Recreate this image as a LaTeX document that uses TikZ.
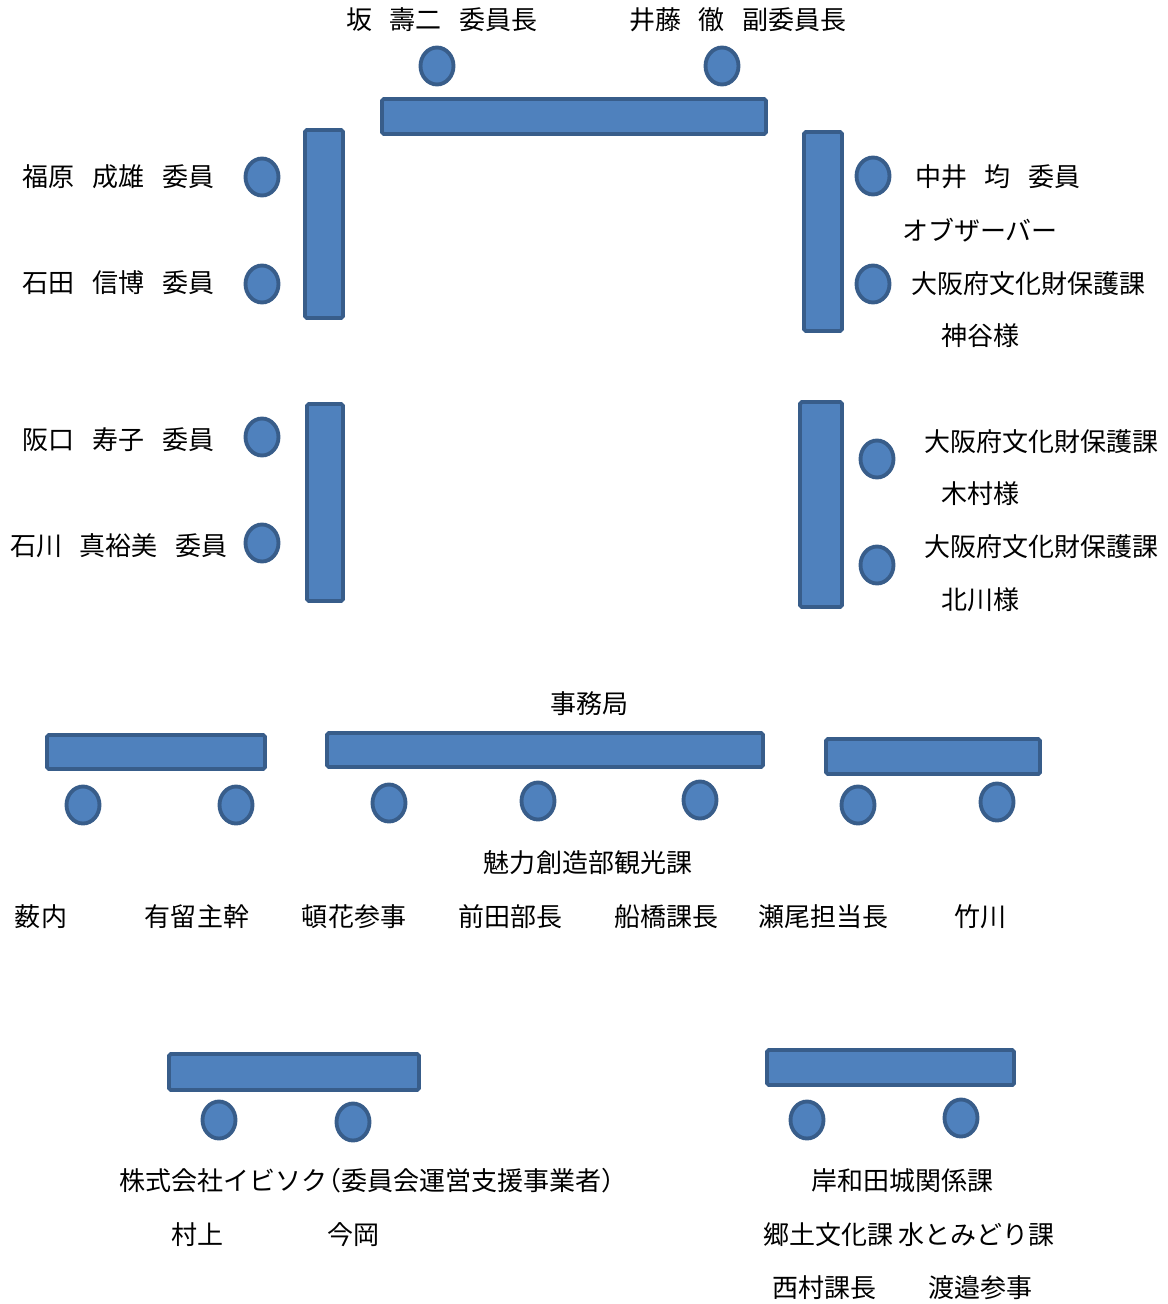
\documentclass[tikz,border=0pt]{standalone}
\usepackage{fontspec}
\setmainfont{Noto Sans CJK JP}
\usetikzlibrary{shapes}
\definecolor{deskblue}{HTML}{4F81BD}
\definecolor{deskline}{HTML}{385D8A}
\newcommand{\jsp}{\hspace{0.68em}}

\begin{document}
\begin{tikzpicture}[x=0.02cm, y=-0.02cm,
  desk/.style 2 args={rectangle, draw=deskline, fill=deskblue, line width=2.2pt, rounded corners=1pt, inner sep=0pt, minimum width=#1*0.02cm, minimum height=#2*0.02cm},
  seat/.style={ellipse, draw=deskline, fill=deskblue, line width=2.2pt, inner sep=0pt, minimum width=0.66cm, minimum height=0.74cm},
  txt/.style={font=\fontsize{14.8pt}{18pt}\selectfont, inner sep=0pt}]
  \useasboundingbox (0,0) rectangle (1168,1304);

  %% committee, top table
  \node[desk={384}{35}] (top) at (574,116.5) {};
  \node[seat] (chair) at (437,66) {};
  \node[seat] (vice) at (722,66) {};
  \node[txt] (chairlabel) at (442,20) {坂\jsp 壽二\jsp 委員長};
  \node[txt] (vicelabel) at (738,20) {井藤\jsp 徹\jsp 副委員長};

  %% left tables
  \node[desk={38}{188}] (left1) at (324,224) {};
  \node[desk={36}{197}] (left2) at (325,502.5) {};
  \foreach \step/\y in {1/177,2/284,3/437,4/543}
    \node[seat] (l\step) at (262,\y) {};
  \node[txt] (llabel1) at (118.5,177) {福原\jsp 成雄\jsp 委員};
  \node[txt] (llabel2) at (118.5,283) {石田\jsp 信博\jsp 委員};
  \node[txt] (llabel3) at (118.5,440) {阪口\jsp 寿子\jsp 委員};
  \node[txt] (llabel4) at (119,546) {石川\jsp 真裕美\jsp 委員};

  %% right tables
  \node[desk={38}{199}] (right1) at (823,231.5) {};
  \node[desk={42}{205}] (right2) at (821,504.5) {};
  \node[seat] (r1) at (873,176) {};
  \node[seat] (r2) at (873,284) {};
  \node[seat] (r3) at (877,459) {};
  \node[seat] (r4) at (877,565) {};
  \node[txt] (rlabel1) at (998,177) {中井\jsp 均\jsp 委員};
  \node[txt] (obs) at (980,230) {オブザーバー};
  \node[txt] (rlabel2) at (1028,284) {大阪府文化財保護課};
  \node[txt] (rname2) at (980,336) {神谷様};
  \node[txt] (rlabel3) at (1041,442) {大阪府文化財保護課};
  \node[txt] (rname3) at (980,494) {木村様};
  \node[txt] (rlabel4) at (1041,547) {大阪府文化財保護課};
  \node[txt] (rname4) at (980,600) {北川様};

  %% secretariat
  \node[txt] (office) at (589,704) {事務局};
  \node[desk={218}{34}] (mid1) at (156,752) {};
  \node[desk={436}{34}] (mid2) at (545,750) {};
  \node[desk={214}{35}] (mid3) at (933,756.5) {};
  \foreach \step/\x/\y in {1/83/805,2/236/805,3/389/803,4/538/801,5/700/800,6/858/805,7/997/802}
    \node[seat] (m\step) at (\x,\y) {};
  \node[txt] (dept) at (588,863) {魅力創造部観光課};
  \foreach \step/\x/\name in {1/41/薮内,2/197/有留主幹,3/354/頓花参事,4/510/前田部長,5/666/船橋課長,6/823/瀬尾担当長,7/980/竹川}
    \node[txt] (mlabel\step) at (\x,917) {\name};

  %% support contractor
  \node[desk={250}{36}] (low1) at (294,1072) {};
  \node[seat] (b1) at (219,1120) {};
  \node[seat] (b2) at (353,1122) {};
  \node[txt, anchor=west] (company) at (119,1181) {株式会社イビソク\kern-0.45em（委員会運営支援事業者）};
  \node[txt] (blabel1) at (197,1235) {村上};
  \node[txt] (blabel2) at (353,1235) {今岡};

  %% castle section
  \node[desk={247}{35}] (low2) at (890.5,1067.5) {};
  \node[seat] (c1) at (807,1120) {};
  \node[seat] (c2) at (961,1118) {};
  \node[txt] (castle) at (902,1181) {岸和田城関係課};
  \node[txt] (sections) at (909,1235) {郷土文化課 水とみどり課};
  \node[txt] (clabel1) at (824,1288) {西村課長};
  \node[txt] (clabel2) at (980,1288) {渡邉参事};
\end{tikzpicture}
\end{document}
